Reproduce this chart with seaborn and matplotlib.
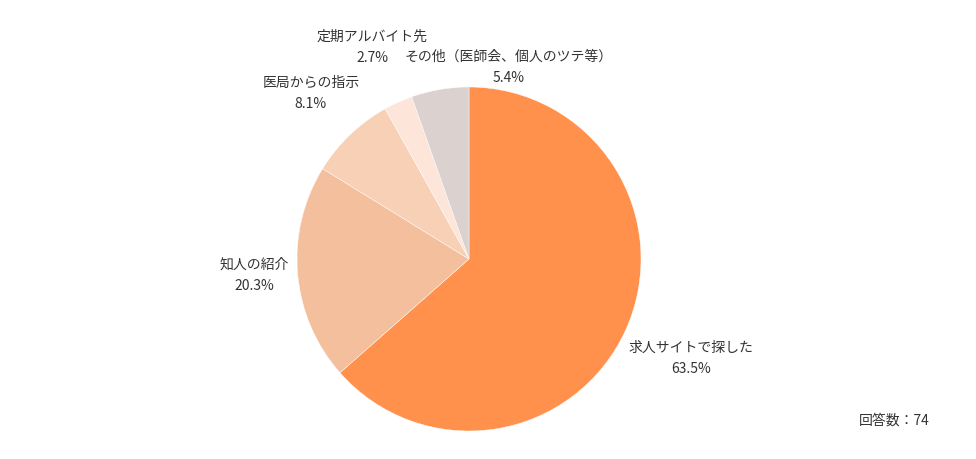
import matplotlib
matplotlib.use("Agg")
import matplotlib.pyplot as plt
import seaborn as sns

sns.set_theme(style="white")
plt.rcParams['font.family'] = ['Noto Sans CJK JP', 'DejaVu Sans']

categories = ["求人サイトで探した", "知人の紹介", "医局からの指示", "定期アルバイト先", "その他（医師会、個人のツテ等）"]
values = [63.5, 20.3, 8.1, 2.7, 5.4]
colors = ["#FF914D", "#F4BF9D", "#F7D0B6", "#FDE6D9", "#DBD1CE"]
# label positions (radius units), style only
label_pos = [(1.29, -0.577), (-1.25, -0.096), (-0.92, 0.96), (-0.564, 1.231), (0.23, 1.115)]
n_total = 74

W, H = 976, 459
fig = plt.figure(figsize=(W / 100, H / 100), dpi=100)
cx, cy, r = 469, 259, 172
ax = fig.add_axes([(cx - r) / W, (H - cy - r) / H, 2 * r / W, 2 * r / H])

labels = [f"{c}\n{v:.1f}%" for c, v in zip(categories, values)]
wedges, texts = ax.pie(values, colors=colors, startangle=90, counterclock=False,
                       labels=labels, labeldistance=1.35, radius=1,
                       wedgeprops=dict(edgecolor="white", linewidth=0.3),
                       textprops=dict(fontsize=10, color="#333333", ha="center", va="center",
                                      linespacing=1.65))
for t, (x, y) in zip(texts, label_pos):
    t.set_position((x, y))
    t.set_horizontalalignment("center")
    t.set_verticalalignment("center")
ax.set_xlim(-1, 1)
ax.set_ylim(-1, 1)
ax.set_aspect("equal")
ax.axis("off")

fig.text(930 / W, 1 - 421 / H, f"回答数：{n_total}", ha="right", va="center", fontsize=10, color="#333333")

fig.savefig("out.png", dpi=100)
